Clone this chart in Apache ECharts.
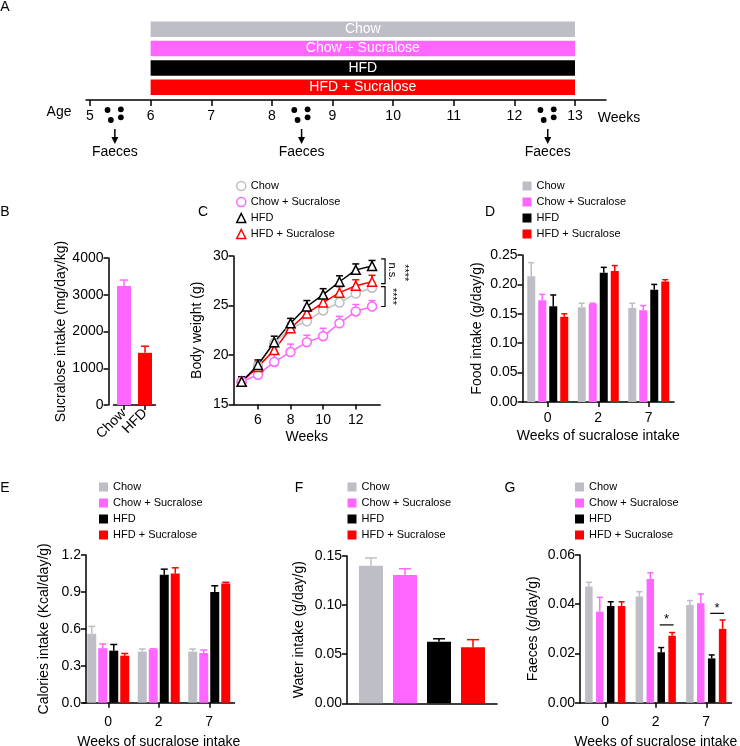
<!DOCTYPE html>
<html><head><meta charset="utf-8">
<script src="https://cdn.jsdelivr.net/npm/echarts@6/dist/echarts.min.js"></script>
<style>html,body{margin:0;padding:0;background:#fff}#c{width:740px;height:746px}</style>
</head><body><div id="c"></div>
<script>
const FONT = '"Liberation Sans", Arial, Helvetica, sans-serif';

// ---------------- DATA ----------------
const groupNames = ['Chow', 'Chow + Sucralose', 'HFD', 'HFD + Sucralose'];
// Panel A timeline
const timelineStartWeek = [6, 6, 6, 6];
const timelineEndWeek = [13, 13, 13, 13];
const ageTickWeeks = [5, 6, 7, 8, 9, 10, 11, 12, 13];
const faecesWeeks = [5.41, 8.49, 12.55];
// Panel B
const bCategories = ['Chow', 'HFD'];
const bSucraloseMean = [3240, 1420];
const bSucraloseSem = [160, 180];
// Panel C
const cWeeks = [5, 6, 7, 8, 9, 10, 11, 12, 13];
const cTickWeeks = [6, 8, 10, 12];
const cChow = [17.3, 18.9, 21.2, 22.7, 23.4, 24.5, 25.3, 26.2, 26.8];
const cChowSem = [0.5, 0.4, 0.4, 0.4, 0.4, 0.4, 0.4, 0.4, 0.4];
const cChowSuc = [17.3, 18.0, 19.3, 20.3, 21.3, 21.9, 23.2, 24.4, 24.9];
const cChowSucSem = [0.5, 0.5, 0.8, 0.8, 0.7, 0.8, 0.7, 0.7, 0.6];
const cHfd = [17.3, 19.0, 21.3, 23.2, 24.9, 26.1, 27.4, 28.6, 29.0];
const cHfdSem = [0.5, 0.5, 0.6, 0.5, 0.6, 0.6, 0.6, 0.6, 0.55];
const cHfdSuc = [17.3, 18.8, 20.5, 22.7, 24.2, 25.3, 26.3, 27.0, 27.4];
const cHfdSucSem = [0.5, 0.5, 0.6, 0.5, 0.6, 0.6, 0.6, 0.6, 0.65];
const cSigTop = [29.7, 26.9, 29.7];
const cSigBottom = [27.2, 24.9, 26.9];
const cSigLabel = ['n.s.', '****', '****'];
const cSigLevel = [0, 0, 1];
// Panel D (food intake)
const weekCategories = ['0', '2', '7'];
const dChow = [0.214, 0.161, 0.160];
const dChowSem = [0.023, 0.007, 0.008];
const dChowSuc = [0.173, 0.167, 0.156];
const dChowSucSem = [0.010, 0.001, 0.008];
const dHfd = [0.163, 0.220, 0.191];
const dHfdSem = [0.019, 0.009, 0.009];
const dHfdSuc = [0.145, 0.223, 0.205];
const dHfdSucSem = [0.005, 0.009, 0.003];
// Panel E (calories)
const eChow = [0.56, 0.415, 0.415];
const eChowSem = [0.06, 0.021, 0.021];
const eChowSuc = [0.443, 0.434, 0.404];
const eChowSucSem = [0.034, 0.004, 0.024];
const eHfd = [0.423, 1.04, 0.90];
const eHfdSem = [0.05, 0.045, 0.05];
const eHfdSuc = [0.382, 1.05, 0.968];
const eHfdSucSem = [0.018, 0.046, 0.01];
// Panel F (water)
const fWater = [0.140, 0.1306, 0.0627, 0.057];
const fWaterSem = [0.008, 0.0064, 0.003, 0.0078];
// Panel G (faeces)
const gChow = [0.0472, 0.0431, 0.0397];
const gChowSem = [0.0017, 0.002, 0.0018];
const gChowSuc = [0.037, 0.0503, 0.0404];
const gChowSucSem = [0.0058, 0.0025, 0.0038];
const gHfd = [0.0393, 0.0205, 0.018];
const gHfdSem = [0.0017, 0.0019, 0.0014];
const gHfdSuc = [0.0393, 0.0272, 0.030];
const gHfdSucSem = [0.0017, 0.0013, 0.0036];
const gSigCategory = [1, 2];
const gSigY = [0.0316, 0.0363];
const gSigLabel = ['*', '*'];

// ---------------- STYLE ----------------
const COLORS = ['#BEBEC6', '#FF66FF', '#000000', '#FF0000'];
const BLACK = '#000';
const axLine = { show: true, onZero: false, lineStyle: { color: BLACK, width: 1.5 } };
const txt = (size) => ({ color: BLACK, fontSize: size, fontFamily: FONT });

function yAx(grid, min, max, interval, dec, name, nameGap, offset) {
  return {
    type: 'value', gridIndex: grid, min, max, interval, offset: offset || 0,
    axisLine: axLine, axisTick: { show: true, length: 5, lineStyle: { color: BLACK, width: 1.5 } },
    splitLine: { show: false },
    axisLabel: Object.assign(txt(14), { margin: 5, formatter: v => v.toFixed(dec) }),
    name, nameLocation: 'middle', nameRotate: 90, nameGap, nameTextStyle: txt(14)
  };
}
function xCat(grid, data, name, margin, nameGap, extra) {
  return Object.assign({
    type: 'category', gridIndex: grid, data,
    axisLine: axLine,
    axisTick: { show: true, alignWithLabel: true, length: 5, lineStyle: { color: BLACK, width: 1.5 } },
    axisLabel: Object.assign(txt(14), { margin, interval: 0 }),
    splitLine: { show: false },
    name, nameLocation: 'middle', nameGap, nameTextStyle: txt(14)
  }, extra || {});
}
function barS(name, grid, data, color, barW, gap) {
  return {
    type: 'bar', name, xAxisIndex: grid, yAxisIndex: grid, data,
    barWidth: barW, barGap: gap, itemStyle: { color },
    silent: true, emphasis: { disabled: true }, z: 2, animation: false
  };
}
function errS(grid, xs, means, sems, color, offset, capW) {
  return {
    type: 'custom', xAxisIndex: grid, yAxisIndex: grid, silent: true, z: 3, clip: false,
    data: means.map((m, i) => [xs[i], m, m + sems[i]]),
    encode: { x: 0, y: [1, 2] },
    renderItem(params, api) {
      const p0 = api.coord([api.value(0), api.value(1)]);
      const p1 = api.coord([api.value(0), api.value(2)]);
      const x = p0[0] + offset;
      const c = Array.isArray(color) ? color[params.dataIndex] : color;
      const st = { stroke: c, lineWidth: 1.5 };
      return {
        type: 'group', children: [
          { type: 'line', shape: { x1: x, y1: p0[1], x2: x, y2: p1[1] }, style: st },
          { type: 'line', shape: { x1: x - capW / 2, y1: p1[1], x2: x + capW / 2, y2: p1[1] }, style: st }
        ]
      };
    }
  };
}
function groupedBars(grid, names, means, sems, barW, gapPx, capW) {
  const out = [];
  const step = barW + gapPx;
  const idx = means[0].map((_, i) => i);
  means.forEach((m, k) => {
    out.push(barS(names[k], grid, m, COLORS[k], barW, (gapPx / barW * 100).toFixed(2) + '%'));
    out.push(errS(grid, idx, m, sems[k], COLORS[k], (k - (means.length - 1) / 2) * step, capW));
  });
  return out;
}
function legendRect(left, top) {
  return {
    left, top, orient: 'vertical', padding: 0, itemGap: 5, itemWidth: 9, itemHeight: 9,
    selectedMode: false, textStyle: txt(11),
    data: groupNames.map((n, i) => ({ name: n, icon: 'rect', itemStyle: { color: COLORS[i], borderWidth: 0 } }))
  };
}

const series = [];

// Panel A: timeline bars
series.push({
  type: 'custom', xAxisIndex: 0, yAxisIndex: 0, silent: true, clip: false,
  data: groupNames.map((n, i) => [timelineStartWeek[i], timelineEndWeek[i], i]),
  encode: { x: [0, 1], y: 2 },
  renderItem(params, api) {
    const s = api.coord([api.value(0), api.value(2)]);
    const e = api.coord([api.value(1), api.value(2)]);
    const h = api.size([0, 1])[1] * 0.8;
    const i = params.dataIndex;
    return {
      type: 'rect', shape: { x: s[0], y: s[1] - h / 2, width: e[0] - s[0], height: h },
      style: { fill: COLORS[i] },
      textContent: { style: { text: groupNames[i], fill: '#fff', fontSize: 14, fontFamily: FONT } },
      textConfig: { position: 'inside' }
    };
  }
});
// Panel A: faeces collection markers
series.push({
  type: 'custom', xAxisIndex: 0, yAxisIndex: 0, silent: true, clip: false,
  data: faecesWeeks.map(w => [w, 0]),
  encode: { x: 0, y: 1 },
  renderItem(params, api) {
    const x = api.coord([api.value(0), 0])[0];
    const ay = params.coordSys.y + params.coordSys.height + 3;
    const dots = [[-7.3, 10], [6, 9.3], [-4, 20], [6, 17.3]].map(d => ({
      type: 'circle', shape: { cx: x + d[0], cy: ay + d[1], r: 2.9 }, style: { fill: BLACK }
    }));
    return {
      type: 'group', children: dots.concat([
        { type: 'line', shape: { x1: x, y1: ay + 29, x2: x, y2: ay + 39 }, style: { stroke: BLACK, lineWidth: 1.5 } },
        { type: 'polygon', shape: { points: [[x - 3.5, ay + 37], [x + 3.5, ay + 37], [x, ay + 44]] }, style: { fill: BLACK } },
        { type: 'text', x: x, y: ay + 52, style: { text: 'Faeces', fill: BLACK, fontSize: 14, fontFamily: FONT, align: 'center', verticalAlign: 'middle' } }
      ])
    };
  }
});

// Panel B
series.push({
  type: 'bar', xAxisIndex: 1, yAxisIndex: 1, barWidth: 14, silent: true, z: 2,
  data: bSucraloseMean.map((v, i) => ({ value: v, itemStyle: { color: i === 0 ? COLORS[1] : COLORS[3] } }))
});
series.push(errS(1, [0, 1], bSucraloseMean, bSucraloseSem, [COLORS[1], COLORS[3]], 0, 8));

// Panel C
const cMeans = [cChow, cChowSuc, cHfd, cHfdSuc];
const cSems = [cChowSem, cChowSucSem, cHfdSem, cHfdSucSem];
[0, 1, 3, 2].forEach(k => {
  series.push(errS(2, cWeeks, cMeans[k], cSems[k], COLORS[k], 0, 7));
  series.push({
    type: 'line', name: groupNames[k], xAxisIndex: 2, yAxisIndex: 2, z: 4,
    data: cWeeks.map((w, i) => [w, cMeans[k][i]]),
    symbol: k < 2 ? 'circle' : 'triangle', symbolSize: 9,
    itemStyle: { color: '#fff', borderColor: COLORS[k], borderWidth: 1.5 },
    lineStyle: { color: COLORS[k], width: 1.5 }, silent: true, emphasis: { disabled: true }
  });
});
series.push({
  type: 'custom', xAxisIndex: 2, yAxisIndex: 2, silent: true, clip: false, z: 5,
  data: cSigTop.map((t, i) => [13, t, cSigBottom[i], cSigLevel[i]]),
  encode: { x: 0, y: [1, 2] },
  renderItem(params, api) {
    const i = params.dataIndex;
    const pt = api.coord([api.value(0), api.value(1)]);
    const pb = api.coord([api.value(0), api.value(2)]);
    const lvl = api.value(3);
    const xb = pt[0] + 13 + lvl * 12;
    const ch = [];
    if (lvl === 0) ch.push({ type: 'polyline', shape: { points: [[xb - 4, pt[1]], [xb, pt[1]], [xb, pb[1]], [xb - 4, pb[1]]] }, style: { stroke: BLACK, lineWidth: 1.2, fill: null } });
    ch.push({ type: 'text', x: xb + 7, y: (pt[1] + pb[1]) / 2, rotation: -Math.PI / 2,
      style: { text: cSigLabel[i], fill: BLACK, fontSize: 11, fontFamily: FONT, align: 'center', verticalAlign: 'middle' } });
    return { type: 'group', children: ch };
  }
});

// Panel D
series.push(...groupedBars(3, groupNames, [dChow, dChowSuc, dHfd, dHfdSuc], [dChowSem, dChowSucSem, dHfdSem, dHfdSucSem], 8, 3, 6));
// Panel E
series.push(...groupedBars(4, groupNames, [eChow, eChowSuc, eHfd, eHfdSuc], [eChowSem, eChowSucSem, eHfdSem, eHfdSucSem], 9, 2, 7));
// Panel F
fWater.forEach((v, k) => {
  series.push(barS(groupNames[k], 5, [v], COLORS[k], 24, '41.67%'));
  series.push(errS(5, [0], [v], [fWaterSem[k]], COLORS[k], (k - 1.5) * 34, 12));
});
// Panel G
series.push(...groupedBars(6, groupNames, [gChow, gChowSuc, gHfd, gHfdSuc], [gChowSem, gChowSucSem, gHfdSem, gHfdSucSem], 7.5, 3.4, 6));
series.push({
  type: 'custom', xAxisIndex: 6, yAxisIndex: 6, silent: true, clip: false, z: 5,
  data: gSigCategory.map((c, i) => [c, gSigY[i]]),
  encode: { x: 0, y: 1 },
  renderItem(params, api) {
    const p = api.coord([api.value(0), api.value(1)]);
    const step = 10.9;
    const x1 = p[0] + 0.5 * step - 1.5, x2 = p[0] + 1.5 * step + 1.5;
    return {
      type: 'group', children: [
        { type: 'line', shape: { x1, y1: p[1], x2, y2: p[1] }, style: { stroke: BLACK, lineWidth: 1.2 } },
        { type: 'text', x: (x1 + x2) / 2, y: p[1] - 5, style: { text: gSigLabel[params.dataIndex], fill: BLACK, fontSize: 13, fontFamily: FONT, align: 'center', verticalAlign: 'middle' } }
      ]
    };
  }
});

const gridBase = { outerBoundsMode: 'none', containLabel: false };
const option = {
  animation: false,
  backgroundColor: '#fff',
  textStyle: { fontFamily: FONT },
  grid: [
    Object.assign({ left: 86, top: 19.5, width: 520, height: 77.5 }, gridBase),
    Object.assign({ left: 113.5, top: 258, width: 42, height: 147 }, gridBase),
    Object.assign({ left: 233.5, top: 256, width: 146.7, height: 148.5 }, gridBase),
    Object.assign({ left: 522.5, top: 255, width: 151.5, height: 147 }, gridBase),
    Object.assign({ left: 83, top: 555, width: 151.5, height: 147.7 }, gridBase),
    Object.assign({ left: 347, top: 556, width: 150, height: 147.3 }, gridBase),
    Object.assign({ left: 580, top: 555, width: 151.5, height: 147.7 }, gridBase)
  ],
  xAxis: [
    {
      type: 'value', gridIndex: 0, min: 4.934, max: 13.511, offset: 3,
      axisLine: axLine,
      axisTick: { show: true, length: 6, customValues: ageTickWeeks, lineStyle: { color: BLACK, width: 1.5 } },
      axisLabel: Object.assign(txt(14), { margin: 9, customValues: ageTickWeeks }),
      splitLine: { show: false }
    },
    xCat(1, bCategories, '', 5, 0, { axisLabel: Object.assign(txt(14), { margin: 6, rotate: 45, interval: 0 }) }),
    {
      type: 'value', gridIndex: 2, min: 4.5, max: 13.5,
      axisLine: axLine,
      axisTick: { show: true, length: 5, customValues: cTickWeeks, lineStyle: { color: BLACK, width: 1.5 } },
      axisLabel: Object.assign(txt(14), { margin: 9, customValues: cTickWeeks }),
      splitLine: { show: false },
      name: 'Weeks', nameLocation: 'middle', nameGap: 26, nameTextStyle: txt(14)
    },
    xCat(3, weekCategories, 'Weeks of sucralose intake', 9, 27),
    xCat(4, weekCategories, 'Weeks of sucralose intake', 12, 32),
    xCat(5, [''], '', 5, 0, { axisTick: { show: false }, axisLabel: { show: false } }),
    xCat(6, weekCategories, 'Weeks of sucralose intake', 12, 32)
  ],
  yAxis: [
    { type: 'category', gridIndex: 0, data: groupNames, inverse: true, show: false },
    yAx(1, 0, 4000, 1000, 0, 'Sucralose intake (mg/day/kg)', 40, 5),
    yAx(2, 15, 30, 5, 0, 'Body weight (g)', 29, 0),
    yAx(3, 0, 0.25, 0.05, 2, 'Food intake (g/day/g)', 38, 0),
    yAx(4, 0, 1.2, 0.3, 1, 'Calories intake (Kcal/day/g)', 35, -3),
    yAx(5, 0, 0.15, 0.05, 2, 'Water intake (g/day/g)', 41, 0),
    yAx(6, 0, 0.06, 0.02, 2, 'Faeces (g/day/g)', 40, 0)
  ],
  legend: [
    {
      left: 236, top: 180.5, orient: 'vertical', padding: 0, itemGap: 5, itemWidth: 9, itemHeight: 9,
      selectedMode: false, textStyle: txt(11),
      data: groupNames.map((n, i) => ({ name: n, icon: i < 2 ? 'circle' : 'triangle', itemStyle: { color: '#fff', borderColor: COLORS[i], borderWidth: 1.5 } }))
    },
    legendRect(522.5, 180.5),
    legendRect(99, 481.5),
    legendRect(347.5, 481.5),
    legendRect(575, 481.5)
  ],
  graphic: [
    ['A', 5, 7], ['B', 5, 212], ['C', 203, 212], ['D', 490, 212], ['E', 5, 488], ['F', 299, 488], ['G', 510, 488],
    ['Age', 59, 112], ['Weeks', 619, 118]
  ].map(t => ({
    type: 'text', x: t[1], y: t[2], silent: true,
    style: { text: t[0], fill: BLACK, fontSize: 14, fontFamily: FONT, align: 'center', verticalAlign: 'middle' }
  })),
  series
};
const chart = echarts.init(document.getElementById('c'), null, { renderer: 'canvas', width: 740, height: 746 });
chart.setOption(option);
</script>
</body></html>
